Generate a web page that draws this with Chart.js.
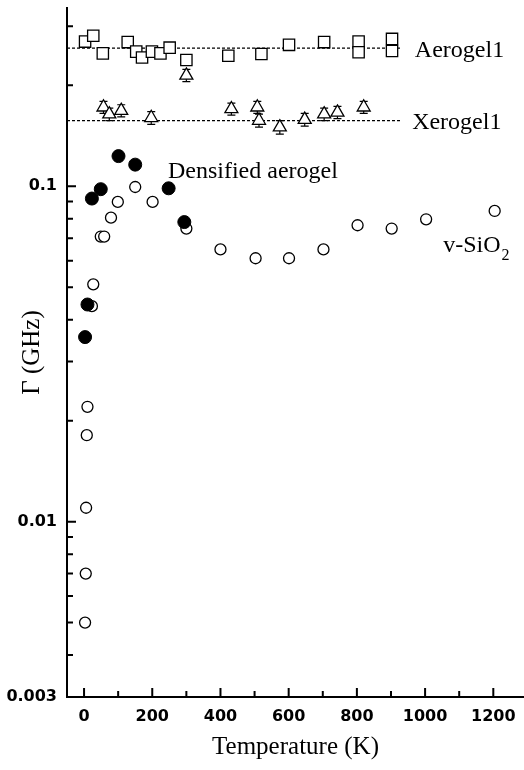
<!DOCTYPE html>
<html>
<head>
<meta charset="utf-8">
<script src="https://cdn.jsdelivr.net/npm/chart.js@4.4.1/dist/chart.umd.min.js"></script>
<style>
    html, body { margin: 0; padding: 0; background: #fff; }
    #wrap { width: 524px; height: 770px; }
</style>
</head>
<body>
<div id="wrap"><canvas id="chart"></canvas></div>
<script>
// --- данные ---
const aeroT = [3, 27, 55, 128, 153, 170, 199, 224, 251, 300, 423, 520, 601, 704, 805, 805, 903, 903];
const aeroG = [0.270, 0.281, 0.249, 0.269, 0.252, 0.242, 0.252, 0.249, 0.259, 0.238, 0.245, 0.248, 0.264, 0.269, 0.270, 0.251, 0.275, 0.253];

const xeroT = [57, 74, 109, 197, 300, 432, 508, 513, 574, 647, 704, 743, 820];
const xeroG = [0.172, 0.164, 0.168, 0.160, 0.214, 0.170, 0.172, 0.157, 0.150, 0.158, 0.164, 0.166, 0.172];
const xeroErr = [0.007, 0.007, 0.007, 0.007, 0.009, 0.007, 0.007, 0.007, 0.007, 0.007, 0.007, 0.007, 0.007];

const densT = [3, 10, 23, 49, 101, 150, 248, 294];
const densG = [0.0355, 0.0444, 0.0919, 0.098, 0.123, 0.116, 0.0986, 0.0782];

const silicaT = [3, 5, 6, 8, 10, 23, 27, 49, 59, 79, 99, 150, 201, 300, 400, 503, 601, 702, 802, 902, 1003, 1204];
const silicaG = [0.0050, 0.0070, 0.0110, 0.0181, 0.0220, 0.0439, 0.0510, 0.0708, 0.0708, 0.0806, 0.0898, 0.0995, 0.0898, 0.0748, 0.0648, 0.0610, 0.0610, 0.0648, 0.0765, 0.0748, 0.0797, 0.0844];

// пунктирные уровни
const fitT = [-50, 930];
const aeroFitG = [0.258, 0.258];
const xeroFitG = [0.157, 0.157];

// деления осей
const xTicks = [0, 100, 200, 300, 400, 500, 600, 700, 800, 900, 1000, 1100, 1200];
const yTicks = [0.003, 0.004, 0.005, 0.006, 0.007, 0.008, 0.009, 0.01, 0.02, 0.03, 0.04, 0.05, 0.06, 0.07, 0.08, 0.09, 0.1, 0.2, 0.3];
const yLabels = ['0.003', '0.01', '0.1'];

const pts = (xs, ys) => xs.map((x, i) => ({ x: x, y: ys[i] }));

// ================================
// Плагин: внутренние риски осей, погрешности и подписи
// ================================
const extras = {
    id: 'extras',
    beforeDatasetDraw(chart, args) {
        if (args.index !== 2) return;
        const { ctx, scales: { x, y } } = chart;
        ctx.save();
        ctx.strokeStyle = '#000';
        ctx.lineWidth = 1.2;
        xeroT.forEach((t, i) => {
            const px = x.getPixelForValue(t);
            const top = y.getPixelForValue(xeroG[i] + xeroErr[i]);
            const bot = y.getPixelForValue(xeroG[i] - xeroErr[i]);
            ctx.beginPath();
            ctx.moveTo(px, top); ctx.lineTo(px, bot);
            ctx.moveTo(px - 4, top); ctx.lineTo(px + 4, top);
            ctx.moveTo(px - 4, bot); ctx.lineTo(px + 4, bot);
            ctx.stroke();
        });
        ctx.restore();
    },
    afterDraw(chart) {
        const { ctx, chartArea, scales: { x, y } } = chart;
        ctx.save();
        ctx.strokeStyle = '#000';
        ctx.lineWidth = 2;
        ctx.beginPath();
        xTicks.forEach(v => {
            const px = x.getPixelForValue(v);
            const len = v % 200 === 0 ? 9 : 6;
            ctx.moveTo(px, chartArea.bottom);
            ctx.lineTo(px, chartArea.bottom - len);
        });
        yTicks.forEach(v => {
            const py = y.getPixelForValue(v);
            const major = v === 0.01 || v === 0.1;
            ctx.moveTo(chartArea.left, py);
            ctx.lineTo(chartArea.left + (major ? 9 : 6), py);
        });
        ctx.stroke();

        // подписи серий
        ctx.fillStyle = '#000';
        ctx.textBaseline = 'alphabetic';
        ctx.textAlign = 'left';
        ctx.font = '24px "Liberation Serif", "Times New Roman", serif';
        ctx.fillText('Aerogel1', x.getPixelForValue(970), y.getPixelForValue(aeroFitG[0]) + 9);
        ctx.fillText('Xerogel1', x.getPixelForValue(962), y.getPixelForValue(xeroFitG[0]) + 8);
        ctx.fillText('Densified aerogel', x.getPixelForValue(246), y.getPixelForValue(0.1056));
        const sx = x.getPixelForValue(1053);
        const sy = y.getPixelForValue(0.0636);
        ctx.fillText('v-SiO', sx, sy);
        const w = ctx.measureText('v-SiO').width;
        ctx.font = '16px "Liberation Serif", "Times New Roman", serif';
        ctx.fillText('2', sx + w + 1, sy + 8);
        ctx.restore();
    }
};

const serif = '"Liberation Serif", "Times New Roman", serif';
const sans = '"DejaVu Sans", sans-serif';

new Chart(document.getElementById('chart'), {
    type: 'scatter',
    data: {
        datasets: [
            {
                type: 'line', data: pts(fitT, aeroFitG), borderColor: '#000', borderWidth: 1.2,
                borderDash: [3, 2], pointRadius: 0, order: 10
            },
            {
                type: 'line', data: pts(fitT, xeroFitG), borderColor: '#000', borderWidth: 1.2,
                borderDash: [3, 2], pointRadius: 0, order: 10
            },
            {
                label: 'Xerogel1', data: pts(xeroT, xeroG), pointStyle: 'triangle', pointRadius: 7.5,
                borderColor: '#000', backgroundColor: '#fff', pointBorderWidth: 1.3, order: 5
            },
            {
                label: 'Aerogel1', data: pts(aeroT, aeroG), pointStyle: 'rect', pointRadius: 8,
                borderColor: '#000', backgroundColor: '#fff', pointBorderWidth: 1.3, order: 4
            },
            {
                label: 'v-SiO2', data: pts(silicaT, silicaG), pointStyle: 'circle', pointRadius: 5.5,
                borderColor: '#000', backgroundColor: '#fff', pointBorderWidth: 1.3, order: 3
            },
            {
                label: 'Densified aerogel', data: pts(densT, densG), pointStyle: 'circle', pointRadius: 6.5,
                borderColor: '#000', backgroundColor: '#000', pointBorderWidth: 1, order: 2
            }
        ]
    },
    options: {
        responsive: true,
        maintainAspectRatio: false,
        animation: false,
        devicePixelRatio: 1,
        layout: { autoPadding: false, padding: { top: 8, right: 0, left: 0, bottom: 0 } },
        plugins: { legend: { display: false }, tooltip: { enabled: false } },
        scales: {
            x: {
                type: 'linear', min: -50, max: 1290,
                grid: { display: false, drawTicks: false },
                border: { display: true, color: '#000', width: 2 },
                afterBuildTicks: s => { s.ticks = xTicks.map(v => ({ value: v })); },
                afterFit: s => { s.height = 73; s.paddingLeft = 0; s.paddingRight = 0; },
                ticks: {
                    autoSkip: false, maxRotation: 0, padding: 10, color: '#000',
                    font: { family: sans, size: 16, weight: 'bold' },
                    callback: v => (v % 200 === 0 ? String(v) : '')
                },
                title: {
                    display: true, text: 'Temperature (K)', color: '#000',
                    font: { family: serif, size: 25 }, padding: { top: 0, bottom: 8 }
                }
            },
            y: {
                type: 'logarithmic', min: 0.003, max: 0.34,
                grid: { display: false, drawTicks: false },
                border: { display: true, color: '#000', width: 2 },
                afterBuildTicks: s => { s.ticks = yTicks.map(v => ({ value: v })); },
                afterFit: s => { s.width = 67; s.paddingTop = 0; s.paddingBottom = 0; },
                ticks: {
                    autoSkip: false, padding: 10, color: '#000',
                    font: { family: sans, size: 16, weight: 'bold' },
                    callback: v => {
                        const lbl = yLabels.find(l => Math.abs(parseFloat(l) - v) < 1e-9);
                        return lbl || '';
                    }
                },
                title: {
                    display: true, text: 'Γ (GHz)', color: '#000',
                    font: { family: serif, size: 25 }, padding: { top: 17, bottom: 0 }
                }
            }
        }
    },
    plugins: [extras]
});
</script>
</body>
</html>
